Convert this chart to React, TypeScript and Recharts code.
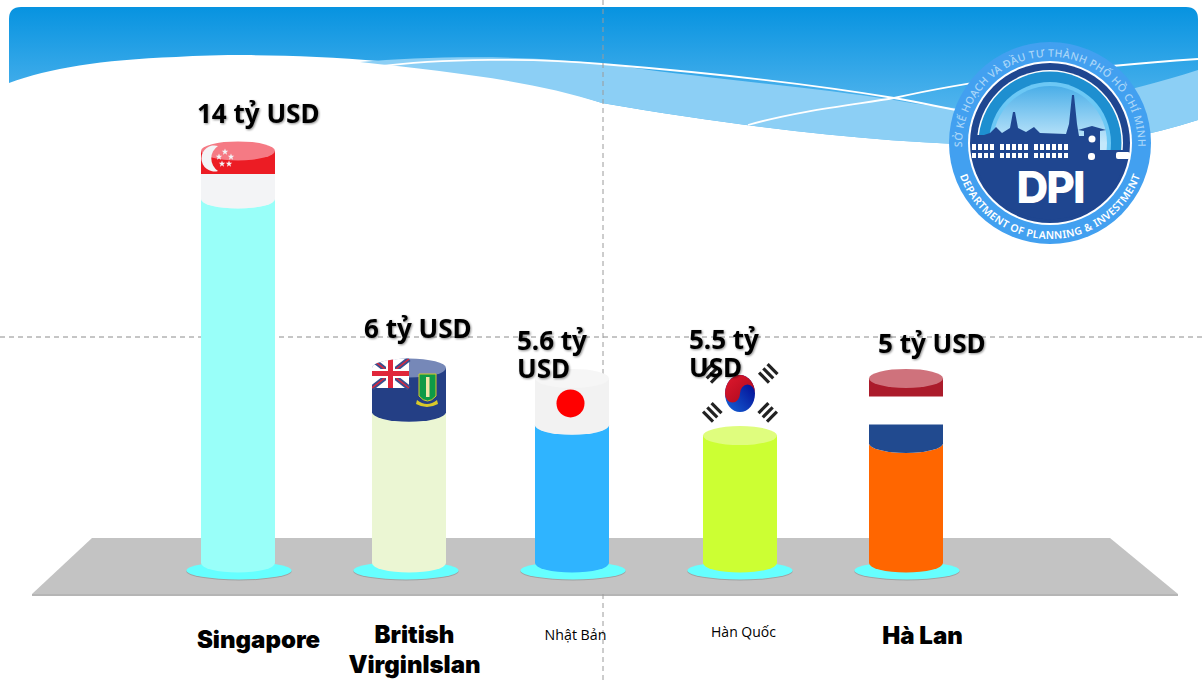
import { BarChart, Bar, XAxis, YAxis, LabelList } from "recharts";

const categories = ["Singapore", "British VirginIslan", "Nhật Bản", "Hàn Quốc", "Hà Lan"];
// stated values, as printed above each column
const valueLabels = ["14 tỷ USD", "6 tỷ USD", "5.6 tỷ USD", "5.5 tỷ USD", "5 tỷ USD"];
// column heights as drawn in the picture (they do not follow the labels exactly)
const columnHeights = [14, 5.8, 5.3, 4.9, 4.6];
// flag cap sitting on top of each column
const flagHeights = [1.85, 1.7, 1.8, 2.5, 2.5];

const bodyColors = ["#99fff9", "#ebf6d3", "#2fb4ff", "#ccff33", "#ff6600"];
const bodyTopColors = ["#c4fffb", "#f3f9e4", "#80d0ff", "#dffd7e", "#ff9a55"];

const data = categories.map((name, i) => ({
  name,
  column: columnHeights[i],
  flag: flagHeights[i],
  label: valueLabels[i],
}));

// columns are not quite centred on their discs in the original
const columnNudge = [-1, 3, -1, 0, -1];

// label placement relative to the flag cap
const labelOffset = [
  { dx: -5, dy: -28, lines: ["14 tỷ USD"] },
  { dx: -5, dy: -30, lines: ["6 tỷ USD"] },
  { dx: -19, dy: -28, lines: ["5.6 tỷ", "USD"] },
  { dx: -14, dy: -22, lines: ["5.5 tỷ", "USD"] },
  { dx: 8, dy: -25, lines: ["5 tỷ USD"] },
];

const tickStyle = [
  { dx: 20, dy: 87, size: 24, heavy: true, lines: ["Singapore"] },
  { dx: 9, dy: 82, size: 24, heavy: true, lines: ["British", "VirginIslan"] },
  { dx: 3, dy: 79, size: 14.2, heavy: false, lines: ["Nhật Bản"] },
  { dx: 4, dy: 76, size: 14, heavy: false, lines: ["Hàn Quốc"] },
  { dx: 16, dy: 83, size: 24, heavy: true, lines: ["Hà Lan"] },
];

const RY = 9.5;

function star(cx: number, cy: number, r: number) {
  const pts: string[] = [];
  for (let i = 0; i < 10; i++) {
    const rad = i % 2 === 0 ? r : r * 0.42;
    const a = -Math.PI / 2 + (i * Math.PI) / 5;
    pts.push(`${cx + rad * Math.cos(a)},${cy + rad * Math.sin(a)}`);
  }
  return pts.join(" ");
}

function ColumnShape(props: any) {
  const { x: rawX, y, width, height, index } = props;
  const x = rawX + columnNudge[index];
  const discX = rawX + width / 2;
  const cx = x + width / 2;
  const rx = width / 2;
  const bottom = y + height;
  return (
    <g>
      <ellipse cx={discX} cy={bottom + 8.5} rx={52.5} ry={9} fill="#8a8a8a" opacity={0.6} />
      <ellipse cx={discX} cy={bottom + 7.5} rx={52.5} ry={9} fill="#66ffff" />
      <path
        d={`M${x},${y} V${bottom} A${rx},${RY} 0 0 0 ${x + width},${bottom} V${y} Z`}
        fill={bodyColors[index]}
      />
      <ellipse cx={cx} cy={y} rx={rx} ry={RY} fill={bodyTopColors[index]} />
    </g>
  );
}

function Trigram({ x, y, rot }: { x: number; y: number; rot: number }) {
  return (
    <g transform={`translate(${x},${y}) rotate(${rot})`} fill="#222">
      <rect x={-7} y={-8} width={14} height={3.2} />
      <rect x={-7} y={-2} width={14} height={3.2} />
      <rect x={-7} y={4} width={14} height={3.2} />
    </g>
  );
}

function FlagShape(props: any) {
  const { x: rawX, y, width, height, index } = props;
  const x = rawX + columnNudge[index];
  const cx = x + width / 2;
  const rx = width / 2;
  const bottom = y + height;
  const bodyPath = `M${x},${y} V${bottom} A${rx},${RY} 0 0 0 ${x + width},${bottom} V${y} Z`;
  const clipId = `cap-${index}`;
  if (index === 0) {
    return (
      <g>
        <path d={bodyPath} fill="#f3f4f6" />
        <path d={`M${x},${y} V${y + 23} H${x + width} V${y} Z`} fill="#ec1c24" />
        <ellipse cx={cx} cy={y} rx={rx} ry={RY} fill="#f57a84" />
        <path
          d={`M${x + 17},${y - 5} A13,13 0 1 0 ${x + 17},${y + 20} A15,15 0 0 1 ${x + 17},${y - 5} Z`}
          fill="#f3f4f6"
        />
        <polygon points={star(x + 24, y + 1, 3.4)} fill="#f3f4f6" />
        <polygon points={star(x + 18, y + 6, 3.4)} fill="#f3f4f6" />
        <polygon points={star(x + 30, y + 6, 3.4)} fill="#f3f4f6" />
        <polygon points={star(x + 21, y + 13, 3.4)} fill="#f3f4f6" />
        <polygon points={star(x + 28, y + 13, 3.4)} fill="#f3f4f6" />
      </g>
    );
  }
  if (index === 1) {
    const j = { x, y: y - 9, w: 37, h: 29 };
    return (
      <g>
        <defs>
          <clipPath id={clipId}>
            <path
              d={`M${x},${y} A${rx},${RY} 0 0 1 ${x + width},${y} V${bottom} A${rx},${RY} 0 0 1 ${x},${bottom} Z`}
            />
          </clipPath>
        </defs>
        <path d={bodyPath} fill="#243f85" />
        <ellipse cx={cx} cy={y} rx={rx} ry={RY} fill="#7688b8" />
        <g clipPath={`url(#${clipId})`}>
          <rect x={j.x} y={j.y} width={j.w} height={j.h} fill="#ffffff" />
          <path d={`M${j.x},${j.y} L${j.x + j.w},${j.y + j.h} M${j.x + j.w},${j.y} L${j.x},${j.y + j.h}`} stroke="#3a4f8f" strokeWidth={5} />
          <path d={`M${j.x},${j.y} L${j.x + j.w},${j.y + j.h} M${j.x + j.w},${j.y} L${j.x},${j.y + j.h}`} stroke="#e0263a" strokeWidth={1.5} />
          <rect x={j.x + j.w / 2 - 4.5} y={j.y} width={9} height={j.h} fill="#fff" />
          <rect x={j.x} y={j.y + j.h / 2 - 4.5} width={j.w} height={9} fill="#fff" />
          <rect x={j.x + j.w / 2 - 2.5} y={j.y} width={5} height={j.h} fill="#e0263a" />
          <rect x={j.x} y={j.y + j.h / 2 - 2.5} width={j.w} height={5} fill="#e0263a" />
        </g>
        <path
          d={`M${x + 47},${y + 6} h17 v22 q-8.5,10 -17,0 Z`}
          fill="#0e9a47"
          stroke="#d9c92a"
          strokeWidth={1}
        />
        <rect x={x + 54} y={y + 9} width={3.5} height={20} fill="#f1e7a8" />
        <path d={`M${x + 45},${y + 32} q10,8 20,0 l1,4 q-11,6 -22,0 Z`} fill="#d9c92a" />
      </g>
    );
  }
  if (index === 2) {
    return (
      <g>
        <path d={bodyPath} fill="#f2f2f2" />
        <ellipse cx={cx} cy={y} rx={rx} ry={RY} fill="#f6f6f6" />
        <circle cx={cx - 1.5} cy={y + 25} r={14} fill="#ff0000" />
      </g>
    );
  }
  if (index === 3) {
    const cy = y + 23;
    return (
      <g>
        <defs>
          <linearGradient id="taegeuk-red" x1="0" y1="0" x2="1" y2="1">
            <stop offset="0" stopColor="#e0182d" />
            <stop offset="1" stopColor="#a8081c" />
          </linearGradient>
          <linearGradient id="taegeuk-blue" x1="1" y1="0" x2="0" y2="1">
            <stop offset="0" stopColor="#00008b" />
            <stop offset="1" stopColor="#1665d8" />
          </linearGradient>
        </defs>
        <ellipse cx={cx} cy={cy} rx={15} ry={18.5} fill="url(#taegeuk-blue)" />
        <path
          d={`M${cx - 15},${cy} A15,18.5 0 0 1 ${cx + 15},${cy} A7.5,9 0 0 0 ${cx},${cy} A7.5,9 0 0 1 ${cx - 15},${cy} Z`}
          fill="url(#taegeuk-red)"
        />
        <Trigram x={cx - 28} y={cy - 20} rot={-45} />
        <Trigram x={cx + 28} y={cy - 20} rot={45} />
        <Trigram x={cx - 28} y={cy + 19} rot={45} />
        <Trigram x={cx + 28} y={cy + 19} rot={-45} />
      </g>
    );
  }
  return (
    <g>
      <path d={bodyPath} fill="#ffffff" />
      <path d={`M${x},${y} V${y + 18} H${x + width} V${y} Z`} fill="#ab1b2b" />
      <ellipse cx={cx} cy={y} rx={rx} ry={RY} fill="#cf727c" />
      <path
        d={`M${x},${y + 46} V${bottom} A${rx},${RY} 0 0 0 ${x + width},${bottom} V${y + 46} Z`}
        fill="#214a8f"
      />
    </g>
  );
}

function ValueLabel(props: any) {
  const { x, y, index } = props;
  const o = labelOffset[index];
  return (
    <text
      x={x + o.dx}
      y={y + o.dy}
      fontFamily="'Noto Sans', sans-serif"
      fontWeight={700}
      fontSize={26}
      fill="#000"
      style={{ filter: "drop-shadow(1.5px 1.5px 1px rgba(0,0,0,0.45))" }}
    >
      {o.lines.map((line, i) => (
        <tspan key={line} x={x + o.dx} dy={i === 0 ? 0 : 28}>
          {line}
        </tspan>
      ))}
    </text>
  );
}

function CategoryTick(props: any) {
  const { x, y, index } = props;
  const s = tickStyle[index];
  return (
    <text
      x={x + s.dx}
      y={y + s.dy - 10}
      textAnchor="middle"
      fontFamily={s.heavy ? "Inter, sans-serif" : "'Open Sans', sans-serif"}
      fontWeight={s.heavy ? 900 : 400}
      fontSize={s.size}
      fill="#000"
    >
      {s.lines.map((line, i) => (
        <tspan key={line} x={x + s.dx} dy={i === 0 ? 0 : 30}>
          {line}
        </tspan>
      ))}
    </text>
  );
}

function Backdrop() {
  const lcx = 1050;
  const lcy = 143;
  const windowsTop = [972, 978, 984, 990, 1000, 1006, 1012, 1018, 1024, 1034, 1040, 1046, 1052, 1058, 1064];
  return (
    <svg width={1203} height={682} style={{ position: "absolute", left: 0, top: 0 }}>
      <defs>
        <linearGradient id="sky" x1="0" y1="0" x2="0" y2="1">
          <stop offset="0" stopColor="#0793e0" />
          <stop offset="1" stopColor="#6cc0f2" />
        </linearGradient>
        <linearGradient id="logoSky" x1="0" y1="0" x2="0" y2="1">
          <stop offset="0" stopColor="#4aaee8" />
          <stop offset="0.5" stopColor="#c4e8fb" />
        </linearGradient>
        <clipPath id="logoInner">
          <circle cx={lcx} cy={lcy} r={76} />
        </clipPath>
        <path id="logoTopArc" d={`M${lcx - 87},${lcy + 15} A88,88 0 1 1 ${lcx + 87},${lcy + 15}`} />
        <path id="logoBottomArc" d={`M${lcx - 94.5},${lcy + 17} A96,96 0 0 0 ${lcx + 94.5},${lcy + 17}`} />
      </defs>

      <line x1={0} y1={337} x2={1203} y2={337} stroke="#8c8c8c" strokeDasharray="5 4" />

      {/* header wave */}
      <path
        d="M9,83 V19 Q9,7 21,7 H1186 Q1198,7 1198,19 V120 C1150,135 1100,146 1040,146 C900,146 760,130 602,103 C480,62 300,50 176,57 C100,60 50,68 9,83 Z"
        fill="url(#sky)"
      />
      <path
        d="M360,62 C430,56 530,54 620,66 C720,80 820,88 894,100 C960,112 1040,120 1198,70 V120 C1150,135 1100,146 1040,146 C900,146 760,130 602,103 C530,80 450,72 360,62 Z"
        fill="#8ccff5"
      />
      <path
        d="M376,67 C440,58 540,58 602,64 C700,72 810,84 894,98 C960,110 1020,124 1067,132"
        fill="none"
        stroke="#ffffff"
        strokeWidth={1.8}
      />
      <path d="M748,125 C800,110 860,104 894,98 C990,76 1100,66 1198,59" fill="none" stroke="#ffffff" strokeWidth={1.8} />
      <line x1={603} y1={0} x2={603} y2={682} stroke="#9a9a9a" strokeDasharray="5 4" />

      {/* floor */}
      <polygon points="92,538 1110,538 1178,594 32,594" fill="#c3c3c3" />
      <line x1={32} y1={595} x2={1178} y2={595} stroke="#9c9c9c" strokeWidth={1.5} />

      {/* logo */}
      <circle cx={lcx} cy={lcy} r={101} fill="#42a0f0" />
      <circle cx={lcx} cy={lcy} r={82} fill="#ffffff" />
      <circle cx={lcx} cy={lcy} r={80} fill="#1f4690" />
      <circle cx={lcx} cy={lcy} r={73} fill="#ffffff" />
      <circle cx={lcx} cy={lcy} r={71.5} fill="#1e8fd0" />
      <circle cx={lcx} cy={lcy} r={61} fill="#6cc8f5" />
      <circle cx={lcx} cy={lcy} r={57} fill="url(#logoSky)" />
      <g clipPath="url(#logoInner)">
        <path
          d="M960,135 H984 L990,133 L996,127 L1002,133 L1010,128 L1013,112 L1015,112 L1018,128 L1026,132 L1034,127 L1040,133 L1066,134 L1069,124 L1072,95 L1074,95 L1077,124 L1079,136 L1084,136 V131 L1078,130 L1092,126 L1106,130 L1100,131 V150 H1130 V160 H1140 V230 H960 Z"
          fill="#1f4690"
        />
      </g>
      <path d={`M${lcx - 76},${lcy + 16} A78,78 0 0 0 ${lcx + 76},${lcy + 16} Z`} fill="#1f4690" />
      {windowsTop.map((wx) => (
        <g key={wx} fill="#ffffff">
          <rect x={wx} y={144} width={4} height={6} />
          <rect x={wx} y={153} width={4} height={5} />
        </g>
      ))}
      <circle cx={1092} cy={139} r={3.5} fill="#ffffff" />
      <rect x={1088} y={153} width={7} height={7} rx={3} fill="#ffffff" />
      <rect x={1116} y={152} width={14} height={7} rx={2} fill="#ffffff" />
      <text x={lcx} y={203} textAnchor="middle" fontFamily="Inter, sans-serif" fontWeight={800} fontSize={44} letterSpacing={-2} fill="#ffffff">
        DPI
      </text>
      <text fontFamily="'Noto Sans', sans-serif" fontWeight={500} fontSize={10.5} fill="#a9d6f8" letterSpacing={0.4}>
        <textPath href="#logoTopArc" startOffset="50%" textAnchor="middle">
          SỞ KẾ HOẠCH VÀ ĐẦU TƯ THÀNH PHỐ HỒ CHÍ MINH
        </textPath>
      </text>
      <text fontFamily="'Noto Sans', sans-serif" fontWeight={600} fontSize={10.5} fill="#ffffff" letterSpacing={0.3}>
        <textPath href="#logoBottomArc" startOffset="50%" textAnchor="middle">
          DEPARTMENT OF PLANNING &amp; INVESTMENT
        </textPath>
      </text>
    </svg>
  );
}

export default function App() {
  return (
    <div
      style={{
        position: "absolute",
        left: 0,
        top: 0,
        width: 1203,
        height: 682,
        overflow: "hidden",
        background: "#ffffff",
      }}
    >
      <Backdrop />
      <div style={{ position: "absolute", left: 0, top: 0 }}>
        <BarChart
          width={1203}
          height={682}
          data={data}
          margin={{ top: 43, right: 213, bottom: 0, left: 155 }}
          barCategoryGap={0}
        >
          <XAxis
            dataKey="name"
            axisLine={false}
            tickLine={false}
            height={119}
            interval={0}
            tick={<CategoryTick />}
          />
          <YAxis hide domain={[0, 20]} />
          <Bar
            dataKey="column"
            stackId="a"
            barSize={74}
            shape={<ColumnShape />}
            isAnimationActive={false}
          />
          <Bar
            dataKey="flag"
            stackId="a"
            barSize={74}
            shape={<FlagShape />}
            isAnimationActive={false}
          >
            <LabelList dataKey="label" content={<ValueLabel />} />
          </Bar>
        </BarChart>
      </div>
    </div>
  );
}
